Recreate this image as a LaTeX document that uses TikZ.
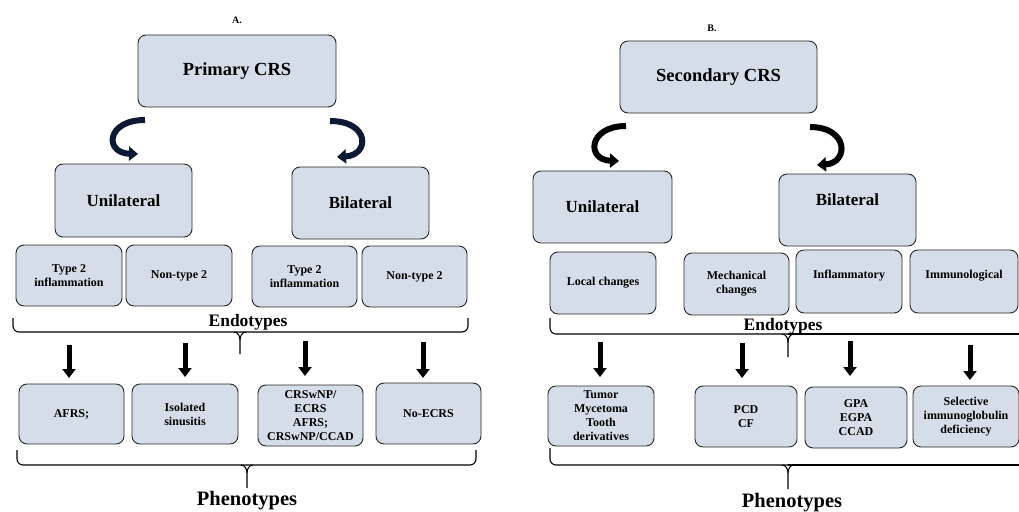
\documentclass[tikz,border=0pt]{standalone}
\usepackage{fontspec}
\setmainfont{Liberation Serif}
\usetikzlibrary{arrows.meta}

\definecolor{boxfill}{RGB}{213,222,232}
\definecolor{navy}{RGB}{12,24,52}

\tikzset{
	box/.style={draw=black!85, fill=boxfill, line width=0.9pt, rounded corners=8pt,
		align=center, inner sep=2pt, font=\fontsize{12}{14}\selectfont\bfseries},
	mid/.style={box, font=\fontsize{17}{20}\selectfont\bfseries},
	top/.style={box, font=\fontsize{18.5}{22}\selectfont\bfseries},
	curl/.style={line width=6pt, -{Triangle[width=14pt,length=9pt]}},
	down/.style={line width=5pt, -{Triangle[width=13pt,length=9pt]}},
	brace/.style={line width=1.1pt, rounded corners=6pt},
	title/.style={font=\fontsize{10}{12}\selectfont\bfseries},
	group/.style={font=\fontsize{17.5}{20}\selectfont\bfseries, inner sep=0pt},
	group2/.style={font=\fontsize{20.5}{24}\selectfont\bfseries, inner sep=0pt}
}

\begin{document}
\begin{tikzpicture}[x=1pt,y=-1pt]
	\useasboundingbox (0,0) rectangle (1019,511);

	% A. primary
	\node[title] (ta) at (237,20) {A.};
	\node[top, minimum width=198pt, minimum height=72pt] (pa) at (237,71) {Primary CRS};
	\node[mid, minimum width=137pt, minimum height=73pt] (ua) at (123.5,200.5) {Unilateral};
	\node[mid, minimum width=137pt, minimum height=72pt] (ba) at (360.5,203) {Bilateral};

	\node[box, minimum width=106pt, minimum height=61pt] (ea1) at (69,275.5) {Type 2\\inflammation};
	\node[box, minimum width=106pt, minimum height=61pt] (ea2) at (179,275.5) {Non-type 2};
	\node[box, minimum width=105pt, minimum height=61pt] (ea3) at (304.5,276.5) {Type 2\\inflammation};
	\node[box, minimum width=105pt, minimum height=61pt] (ea4) at (414.5,276.5) {Non-type 2};

	\node[box, minimum width=105pt, minimum height=60pt] (fa1) at (71.5,414) {AFRS;};
	\node[box, minimum width=106pt, minimum height=60pt] (fa2) at (185,414) {Isolated\\sinusitis};
	\node[box, minimum width=105pt, minimum height=61pt] (fa3) at (310.5,415.5) {CRSwNP/\\ECRS\\AFRS;\\CRSwNP/CCAD};
	\node[box, minimum width=105pt, minimum height=61pt] (fa4) at (428.5,413.5) {No-ECRS};

	\node[group] (enda) at (248,322) {Endotypes};
	\node[group2] (pha) at (247,501) {Phenotypes};

	\coordinate (ca1) at (145,120);
	\coordinate (ca2) at (138,154);
	\coordinate (ca3) at (330,121);
	\coordinate (ca4) at (337,157);
	\draw[curl, navy] (ca1) .. controls (106,120) and (104,153) .. (ca2);
	\draw[curl, navy] (ca3) .. controls (370,121) and (370,155) .. (ca4);

	\draw[brace] (13,318) -- (13,332) -- (240,332);
	\draw[brace] (240,332) -- (468,332) -- (468,318);
	\draw[line width=1.1pt] (234,332) to[out=0,in=90] (240,340) -- (240,354);
	\draw[line width=1.1pt] (246,332) to[out=180,in=90] (240,340);

	\coordinate (da1) at (69,345);   \coordinate (db1) at (69,378);
	\coordinate (da2) at (185,343);  \coordinate (db2) at (185,377);
	\coordinate (da3) at (305,341);  \coordinate (db3) at (305,376);
	\coordinate (da4) at (423,342);  \coordinate (db4) at (423,378);
	\draw[down] (da1) -- (db1);
	\draw[down] (da2) -- (db2);
	\draw[down] (da3) -- (db3);
	\draw[down] (da4) -- (db4);

	\draw[brace] (17,450) -- (17,465) -- (247,465);
	\draw[brace] (247,465) -- (476,465) -- (476,450);
	\draw[line width=1.1pt] (241,465) to[out=0,in=90] (247,473) -- (247,488);
	\draw[line width=1.1pt] (253,465) to[out=180,in=90] (247,473);

	% B. secondary
	\node[title] (tb) at (712,28) {B.};
	\node[top, minimum width=197pt, minimum height=72pt] (pb) at (718.5,77) {Secondary CRS};
	\node[mid, minimum width=139pt, minimum height=72pt] (ub) at (602.5,207) {Unilateral};
	\node[mid, minimum width=137pt, minimum height=72pt, text depth=20pt] (bb) at (847.5,210) {Bilateral};

	\node[box, minimum width=106pt, minimum height=62pt] (eb1) at (603,283) {Local changes};
	\node[box, minimum width=105pt, minimum height=62pt] (eb2) at (736.5,284) {Mechanical\\changes};
	\node[box, minimum width=106pt, minimum height=63pt, text depth=14pt] (eb3) at (849,281.5) {Inflammatory};
	\node[box, minimum width=108pt, minimum height=63pt, text depth=14pt] (eb4) at (964,281.5) {Immunological};

	\node[box, minimum width=106pt, minimum height=60pt] (fb1) at (601,416) {Tumor\\Mycetoma\\Tooth\\derivatives};
	\node[box, minimum width=102pt, minimum height=61pt] (fb2) at (746,416.5) {PCD\\CF};
	\node[box, minimum width=102pt, minimum height=61pt] (fb3) at (856,417.5) {GPA\\EGPA\\CCAD};
	\node[box, minimum width=106pt, minimum height=61pt] (fb4) at (966,416.5) {Selective\\immunoglobulin\\deficiency};

	\node[group] (endb) at (783,326) {Endotypes};
	\node[group2] (phb) at (792,503) {Phenotypes};

	\coordinate (cb1) at (626,126);
	\coordinate (cb2) at (619,161);
	\coordinate (cb3) at (810,127);
	\coordinate (cb4) at (817,165);
	\draw[curl] (cb1) .. controls (588,126) and (586,160) .. (cb2);
	\draw[curl] (cb3) .. controls (849,127) and (849,163) .. (cb4);

	\draw[brace] (550,318) -- (550,334) -- (788,334);
	\draw[line width=1.1pt] (788,334) -- (1025,334);
	\draw[line width=1.1pt] (782,334) to[out=0,in=90] (788,342) -- (788,357);
	\draw[line width=1.1pt] (794,334) to[out=180,in=90] (788,342);

	\coordinate (dc1) at (600,342);  \coordinate (dd1) at (600,377);
	\coordinate (dc2) at (742,343);  \coordinate (dd2) at (742,378);
	\coordinate (dc3) at (850,341);  \coordinate (dd3) at (850,376);
	\coordinate (dc4) at (970,345);  \coordinate (dd4) at (970,380);
	\draw[down] (dc1) -- (dd1);
	\draw[down] (dc2) -- (dd2);
	\draw[down] (dc3) -- (dd3);
	\draw[down] (dc4) -- (dd4);

	\draw[brace] (550,448) -- (550,465) -- (788,465);
	\draw[line width=1.1pt] (788,465) -- (1025,465);
	\draw[line width=1.1pt] (782,465) to[out=0,in=90] (788,473) -- (788,489);
	\draw[line width=1.1pt] (794,465) to[out=180,in=90] (788,473);
\end{tikzpicture}
\end{document}
